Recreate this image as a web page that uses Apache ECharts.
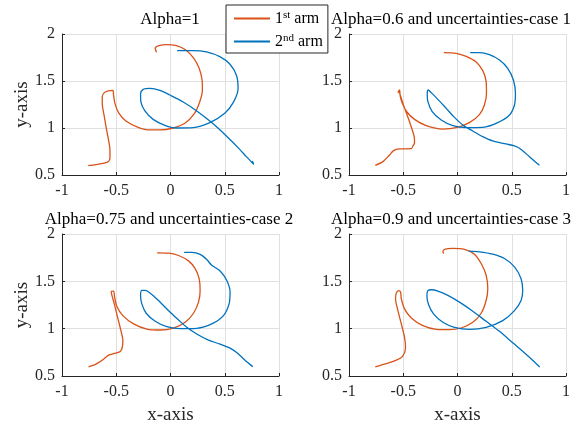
<!DOCTYPE html>
<html><head><meta charset="utf-8">
<script src="https://cdn.jsdelivr.net/npm/echarts@6/dist/echarts.min.js"></script>
<style>html,body{margin:0;padding:0;background:#fff}#c{width:581px;height:427px}</style>
</head><body><div id="c"></div>
<script>
// ---- data ----
const xTicks = [-1, -0.5, 0, 0.5, 1];
const yTicks = [0.5, 1, 1.5, 2];
const titles = ['Alpha=1', 'Alpha=0.6 and uncertainties-case 1', 'Alpha=0.75 and uncertainties-case 2', 'Alpha=0.9 and uncertainties-case 3'];
const armNames = ['1st arm', '2nd arm'];
const xLabel = 'x-axis';
const yLabel = 'y-axis';

// plot 1: Alpha=1
const arm1_case0 = [[-0.758,0.599],[-0.580,0.638],[-0.558,0.677],[-0.558,0.766],[-0.571,0.872],[-0.589,0.979],[-0.610,1.121],[-0.629,1.262],[-0.629,1.333],[-0.610,1.376],[-0.574,1.394],[-0.531,1.401],[-0.525,1.351],[-0.512,1.262],[-0.479,1.163],[-0.411,1.074],[-0.298,1.007],[-0.190,0.979],[-0.098,0.979],[0.025,1.0],[0.132,1.050],[0.218,1.149],[0.270,1.280],[0.294,1.404],[0.291,1.511],[0.264,1.635],[0.215,1.741],[0.141,1.830],[0.055,1.876],[-0.037,1.887],[-0.107,1.876],[-0.141,1.848],[-0.129,1.805]];
const arm2_case0 = [[0.755,0.649],[0.767,0.613],[0.699,0.695],[0.638,0.773],[0.515,0.915],[0.377,1.060],[0.239,1.184],[0.117,1.277],[-0.006,1.351],[-0.098,1.401],[-0.190,1.422],[-0.252,1.411],[-0.276,1.362],[-0.273,1.280],[-0.236,1.181],[-0.160,1.092],[-0.052,1.028],[0.055,1.0],[0.209,1.004],[0.362,1.057],[0.5,1.156],[0.583,1.280],[0.623,1.422],[0.607,1.564],[0.546,1.681],[0.454,1.759],[0.331,1.809],[0.209,1.823],[0.061,1.823]];
// plot 2: Alpha=0.6 case 1
const arm1_case1 = [[-0.758,0.603],[-0.687,0.642],[-0.626,0.713],[-0.589,0.759],[-0.534,0.777],[-0.426,0.780],[-0.411,0.809],[-0.396,0.844],[-0.399,0.908],[-0.417,0.979],[-0.442,1.067],[-0.472,1.163],[-0.503,1.262],[-0.528,1.351],[-0.543,1.394],[-0.549,1.376],[-0.534,1.404],[-0.528,1.340],[-0.509,1.262],[-0.466,1.170],[-0.396,1.092],[-0.288,1.025],[-0.135,0.989],[-0.012,1.004],[0.110,1.057],[0.202,1.142],[0.248,1.245],[0.267,1.369],[0.264,1.493],[0.233,1.610],[0.172,1.702],[0.080,1.762],[-0.012,1.794],[-0.126,1.801]];
const arm2_case1 = [[0.755,0.603],[0.663,0.695],[0.571,0.784],[0.525,0.809],[0.448,0.830],[0.325,0.862],[0.233,0.908],[0.141,0.968],[0.049,1.032],[-0.028,1.113],[-0.104,1.209],[-0.181,1.305],[-0.242,1.376],[-0.270,1.404],[-0.279,1.362],[-0.273,1.280],[-0.233,1.174],[-0.150,1.085],[-0.043,1.025],[0.080,1.004],[0.233,1.007],[0.371,1.057],[0.479,1.138],[0.525,1.245],[0.534,1.369],[0.515,1.511],[0.463,1.635],[0.387,1.723],[0.294,1.780],[0.202,1.801],[0.117,1.801]];
// plot 3: Alpha=0.75 case 2
const arm1_case2 = [[-0.755,0.596],[-0.678,0.631],[-0.617,0.677],[-0.571,0.720],[-0.509,0.741],[-0.463,0.759],[-0.445,0.801],[-0.439,0.872],[-0.457,0.979],[-0.488,1.121],[-0.518,1.262],[-0.540,1.351],[-0.546,1.394],[-0.525,1.397],[-0.515,1.333],[-0.494,1.234],[-0.439,1.138],[-0.340,1.050],[-0.218,0.996],[-0.095,0.986],[0.028,1.007],[0.135,1.067],[0.212,1.163],[0.258,1.280],[0.273,1.404],[0.264,1.528],[0.227,1.635],[0.166,1.716],[0.074,1.773],[-0.018,1.798],[-0.123,1.801]];
const arm2_case2 = [[0.758,0.599],[0.687,0.667],[0.610,0.748],[0.549,0.794],[0.457,0.837],[0.350,0.879],[0.242,0.943],[0.150,1.014],[0.074,1.092],[-0.003,1.174],[-0.095,1.280],[-0.172,1.362],[-0.233,1.404],[-0.264,1.404],[-0.276,1.351],[-0.264,1.262],[-0.224,1.163],[-0.141,1.078],[-0.034,1.021],[0.089,1.0],[0.242,1.004],[0.380,1.050],[0.488,1.138],[0.540,1.262],[0.549,1.387],[0.518,1.511],[0.457,1.610],[0.380,1.670],[0.334,1.730],[0.273,1.784],[0.196,1.805],[0.126,1.805]];
// plot 4: Alpha=0.9 case 3
const arm1_case3 = [[-0.758,0.596],[-0.656,0.631],[-0.564,0.667],[-0.503,0.713],[-0.479,0.801],[-0.488,0.908],[-0.518,1.050],[-0.549,1.191],[-0.571,1.316],[-0.564,1.376],[-0.543,1.401],[-0.525,1.387],[-0.518,1.316],[-0.488,1.209],[-0.426,1.113],[-0.319,1.032],[-0.196,0.993],[-0.074,0.989],[0.034,1.007],[0.141,1.067],[0.218,1.163],[0.264,1.298],[0.279,1.422],[0.264,1.564],[0.218,1.688],[0.156,1.787],[0.064,1.837],[-0.043,1.848],[-0.113,1.840],[-0.135,1.812],[-0.126,1.794]];
const arm2_case3 = [[0.758,0.596],[0.632,0.730],[0.509,0.851],[0.387,0.972],[0.264,1.078],[0.141,1.184],[0.018,1.280],[-0.089,1.351],[-0.181,1.397],[-0.242,1.411],[-0.273,1.401],[-0.282,1.351],[-0.267,1.255],[-0.221,1.156],[-0.135,1.067],[-0.028,1.014],[0.110,0.993],[0.264,1.014],[0.417,1.085],[0.525,1.191],[0.586,1.298],[0.601,1.404],[0.586,1.528],[0.525,1.652],[0.433,1.741],[0.325,1.787],[0.202,1.812],[0.104,1.819]];

const arm1Data = [arm1_case0, arm1_case1, arm1_case2, arm1_case3];
const arm2Data = [arm2_case0, arm2_case1, arm2_case2, arm2_case3];

// ---- layout / style ----
const FONT = 'Liberation Serif';
const AXC = '#262626';
const COLORS = ['#D95319', '#0072BD'];
const grids = [
  {left: 62, top: 34, width: 217, height: 141},
  {left: 349, top: 34, width: 217, height: 141},
  {left: 62, top: 234, width: 217, height: 142},
  {left: 349, top: 234, width: 217, height: 142}
];
const titlePos = [{x: 170, y: 11}, {x: 451, y: 11}, {x: 169, y: 211}, {x: 451, y: 211}];

const xAxes = [], yAxes = [], series = [], titleComps = [];
grids.forEach((g, i) => {
  const bottom = i >= 2, left = (i % 2 === 0);
  xAxes.push({
    type: 'value', gridIndex: i, min: xTicks[0], max: xTicks[xTicks.length - 1], interval: 0.5,
    name: bottom ? xLabel : '', nameLocation: 'middle', nameGap: 30,
    nameTextStyle: {fontFamily: FONT, fontSize: 19, color: AXC},
    axisLine: {show: true, onZero: false, lineStyle: {color: AXC, width: 1}},
    axisTick: {show: true, inside: true, length: 3, lineStyle: {color: AXC}},
    axisLabel: {fontFamily: FONT, fontSize: 16, color: AXC, margin: 8},
    splitLine: {show: true, lineStyle: {color: '#e0e0e0', width: 1}}
  });
  yAxes.push({
    type: 'value', gridIndex: i, min: yTicks[0], max: yTicks[yTicks.length - 1], interval: 0.5,
    name: left ? yLabel : '', nameLocation: 'middle', nameGap: 29,
    nameTextStyle: {fontFamily: FONT, fontSize: 19, color: AXC},
    axisLine: {show: true, onZero: false, lineStyle: {color: AXC, width: 1}},
    axisTick: {show: true, inside: true, length: 3, lineStyle: {color: AXC}},
    axisLabel: {fontFamily: FONT, fontSize: 16, color: AXC, margin: 7},
    splitLine: {show: true, lineStyle: {color: '#e0e0e0', width: 1}}
  });
  [arm1Data[i], arm2Data[i]].forEach((d, k) => {
    series.push({
      type: 'line', name: armNames[k], xAxisIndex: i, yAxisIndex: i,
      data: d, showSymbol: false, symbol: 'none', smooth: 0.3, z: 3,
      lineStyle: {color: COLORS[k], width: 1.3}, itemStyle: {color: COLORS[k]},
      animation: false
    });
  });
  titleComps.push({
    text: titles[i], left: titlePos[i].x, top: titlePos[i].y, textAlign: 'center', padding: 0,
    textStyle: {fontFamily: FONT, fontSize: 17, fontWeight: 'normal', color: '#000'}
  });
});

const chart = echarts.init(document.getElementById('c'), null, {renderer: 'canvas'});
chart.setOption({
  animation: false,
  backgroundColor: '#fff',
  title: titleComps,
  grid: grids.map(g => Object.assign({containLabel: false}, g)),
  xAxis: xAxes,
  yAxis: yAxes,
  legend: {
    data: armNames.map((n, k) => ({name: n, icon: 'rect', itemStyle: {color: COLORS[k]}})),
    orient: 'vertical', left: 226, top: 5,
    itemWidth: 36, itemHeight: 2, itemGap: 6,
    padding: [5, 5, 3, 8],
    backgroundColor: '#fff', borderColor: AXC, borderWidth: 1,
    selectedMode: false,
    formatter: function (name) {
      return name === armNames[0] ? '{n|1}{s|st}{n| arm}' : '{n|2}{s|nd}{n| arm}';
    },
    textStyle: {
      fontFamily: FONT, fontSize: 16, color: '#000', lineHeight: 17,
      rich: {
        n: {fontFamily: FONT, fontSize: 16, color: '#000', lineHeight: 17},
        s: {fontFamily: FONT, fontSize: 11, color: '#000', lineHeight: 17, verticalAlign: 'top'}
      }
    }
  },
  series: series
});
</script>
</body></html>
